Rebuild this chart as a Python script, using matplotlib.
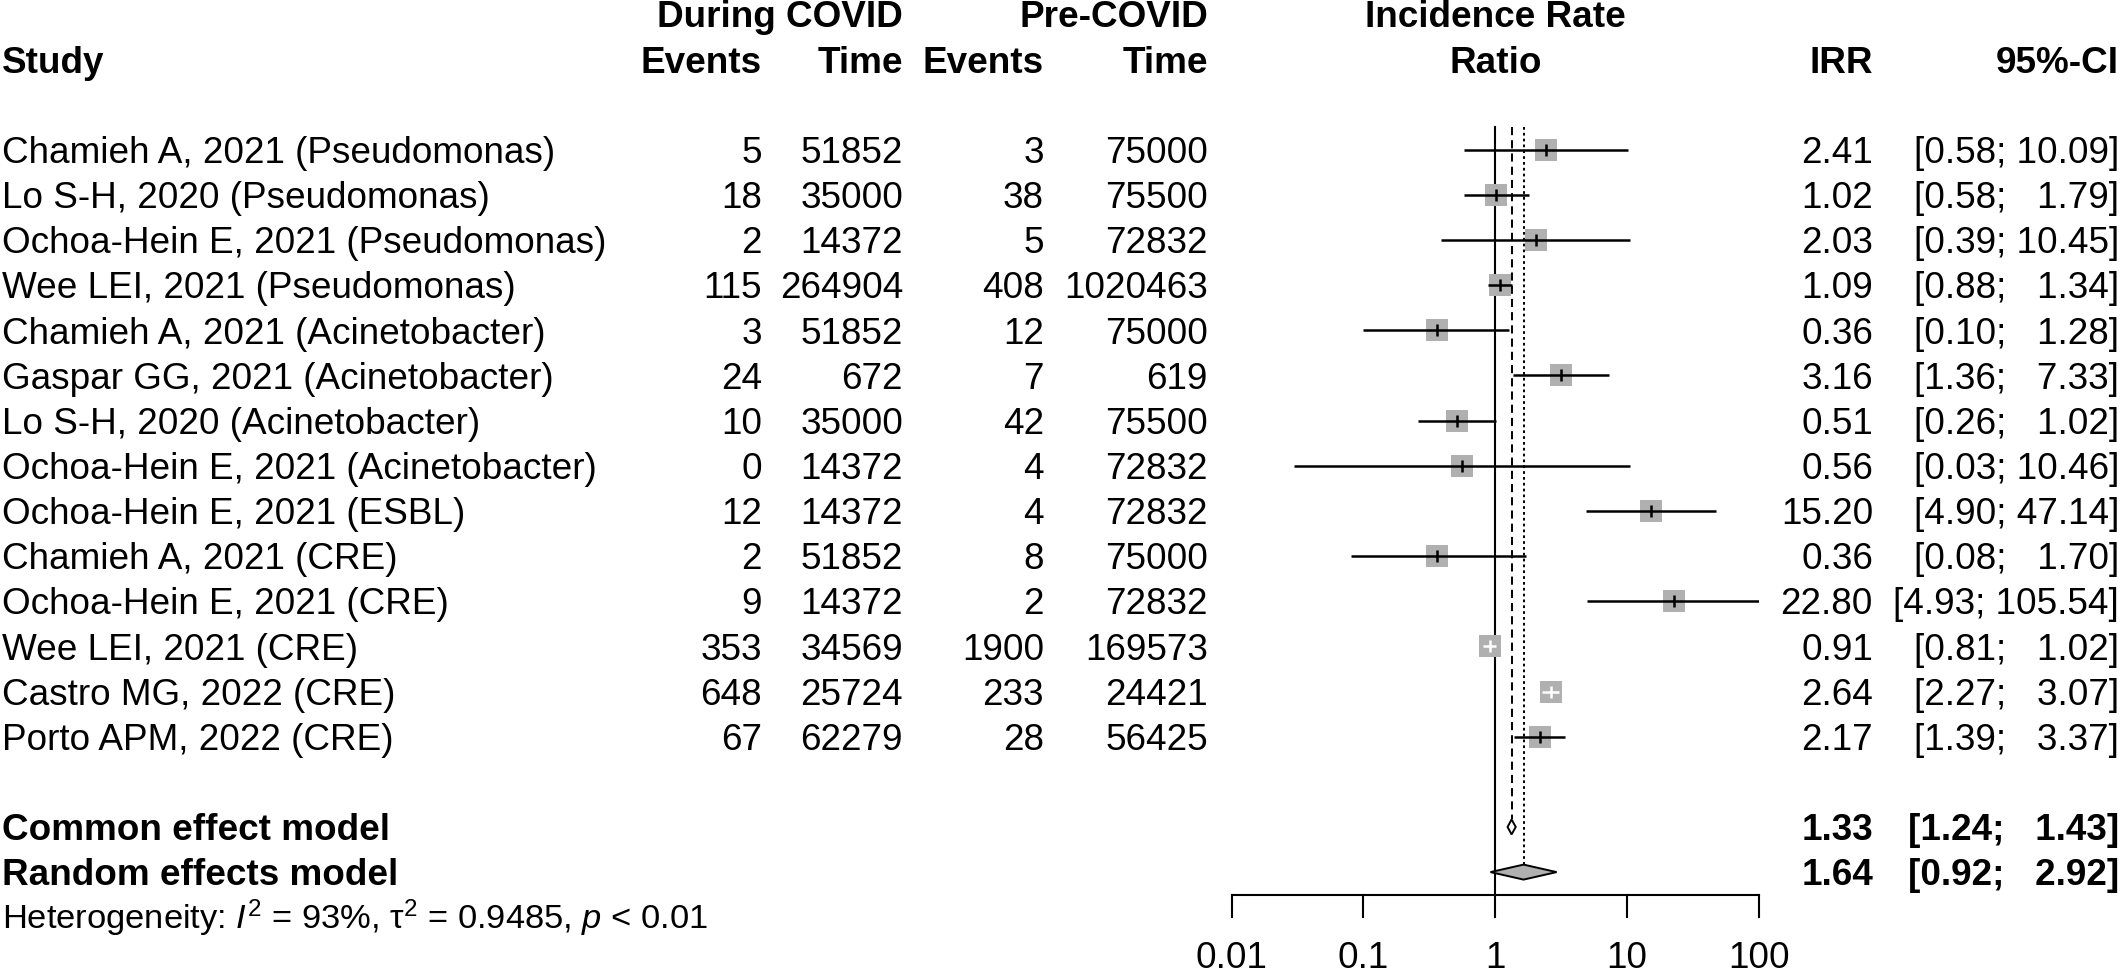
import matplotlib
matplotlib.use("Agg")
import matplotlib.pyplot as plt
from matplotlib.patches import Polygon
import numpy as np

# ---------------- data ----------------
studies = [
    "Chamieh A, 2021 (Pseudomonas)",
    "Lo S-H, 2020 (Pseudomonas)",
    "Ochoa-Hein E, 2021 (Pseudomonas)",
    "Wee LEI, 2021 (Pseudomonas)",
    "Chamieh A, 2021 (Acinetobacter)",
    "Gaspar GG, 2021 (Acinetobacter)",
    "Lo S-H, 2020 (Acinetobacter)",
    "Ochoa-Hein E, 2021 (Acinetobacter)",
    "Ochoa-Hein E, 2021 (ESBL)",
    "Chamieh A, 2021 (CRE)",
    "Ochoa-Hein E, 2021 (CRE)",
    "Wee LEI, 2021 (CRE)",
    "Castro MG, 2022 (CRE)",
    "Porto APM, 2022 (CRE)",
]
events_during = [5, 18, 2, 115, 3, 24, 10, 0, 12, 2, 9, 353, 648, 67]
time_during = [51852, 35000, 14372, 264904, 51852, 672, 35000, 14372, 14372, 51852, 14372, 34569, 25724, 62279]
events_pre = [3, 38, 5, 408, 12, 7, 42, 4, 4, 8, 2, 1900, 233, 28]
time_pre = [75000, 75500, 72832, 1020463, 75000, 619, 75500, 72832, 72832, 75000, 72832, 169573, 24421, 56425]
irr = [2.41, 1.02, 2.03, 1.09, 0.36, 3.16, 0.51, 0.56, 15.20, 0.36, 22.80, 0.91, 2.64, 2.17]
ci_low = [0.58, 0.58, 0.39, 0.88, 0.10, 1.36, 0.26, 0.03, 4.90, 0.08, 4.93, 0.81, 2.27, 1.39]
ci_high = [10.09, 1.79, 10.45, 1.34, 1.28, 7.33, 1.02, 10.46, 47.14, 1.70, 105.54, 1.02, 3.07, 3.37]

model_labels = ["Common effect model", "Random effects model"]
model_irr = [1.33, 1.64]
model_low = [1.24, 0.92]
model_high = [1.43, 2.92]

xticks = [0.01, 0.1, 1, 10, 100]
xtick_labels = ["0.01", "0.1", "1", "10", "100"]

# ---------------- layout ----------------
W, H, DPI = 2122, 977, 100
FONT = "Liberation Sans"
FS = 26.6
FS_HET = 24.8
ROW0, ROWH = 149.7, 45.15
CAP = 13.2  # half cap-height in px

X_STUDY = 2
X_DEV, X_DTIME, X_PEV, X_PTIME = 762, 903, 1044, 1208
X_IRR, X_CI = 1873, 2119
X_LO, X_HI = 1231.5, 1759.0      # pixel positions of 0.01 and 100
AXIS_Y, TICK_Y, TICKLAB_Y = 895, 917, 955
GRAY = "#B0B0B0"

def rowy(i):
    return ROW0 + ROWH * i

plt.rcParams["font.family"] = [FONT, "DejaVu Sans"]
plt.rcParams["mathtext.fontset"] = "custom"
plt.rcParams["mathtext.rm"] = FONT
plt.rcParams["mathtext.it"] = FONT + ":italic"
plt.rcParams["mathtext.bf"] = FONT + ":bold"

fig = plt.figure(figsize=(W / DPI, H / DPI), dpi=DPI)
fig.patch.set_facecolor("white")

tx = fig.add_axes([0, 0, 1, 1])
tx.set_xlim(0, W)
tx.set_ylim(H, 0)
tx.axis("off")

fx = fig.add_axes([X_LO / W, 0, (X_HI - X_LO) / W, 1])
fx.set_xscale("log")
fx.set_xlim(0.01, 100)
fx.set_ylim(H, 0)
fx.axis("off")
fx.patch.set_alpha(0)

def put(x, i, s, ha="left", bold=False, fs=FS, y=None):
    yy = rowy(i) if y is None else y
    tx.text(x, yy + CAP * fs / FS, s, ha=ha, va="baseline", fontsize=fs,
            fontweight="bold" if bold else "normal", color="black")

x_one = X_LO + (X_HI - X_LO) * (np.log10(1) - np.log10(0.01)) / 4

# headers
put(X_DTIME, -3, "During COVID", ha="right", bold=True)
put(X_PTIME, -3, "Pre-COVID", ha="right", bold=True)
put(x_one, -3, "Incidence Rate", ha="center", bold=True)
put(X_STUDY, -2, "Study", bold=True)
put(X_DEV, -2, "Events", ha="right", bold=True)
put(X_DTIME, -2, "Time", ha="right", bold=True)
put(X_PEV, -2, "Events", ha="right", bold=True)
put(X_PTIME, -2, "Time", ha="right", bold=True)
put(x_one, -2, "Ratio", ha="center", bold=True)
put(X_IRR, -2, "IRR", ha="right", bold=True)
put(X_CI, -2, "95%-CI", ha="right", bold=True)

FIGSP = "\u2007"

def ci_str(lo, hi):
    hs = f"{hi:.2f}"
    hs = FIGSP * max(0, 5 - len(hs)) + hs
    return f"[{lo:.2f}; {hs}]"

# study rows
for i, name in enumerate(studies):
    put(X_STUDY, i, name)
    put(X_DEV, i, str(events_during[i]), ha="right")
    put(X_DTIME, i, str(time_during[i]), ha="right")
    put(X_PEV, i, str(events_pre[i]), ha="right")
    put(X_PTIME, i, str(time_pre[i]), ha="right")
    put(X_IRR, i, f"{irr[i]:.2f}", ha="right")
    put(X_CI, i, ci_str(ci_low[i], ci_high[i]), ha="right")

# model rows
n = len(studies)
for k, lab in enumerate(model_labels):
    i = n + 1 + k
    put(X_STUDY, i, lab, bold=True)
    put(X_IRR, i, f"{model_irr[k]:.2f}", ha="right", bold=True)
    put(X_CI, i, ci_str(model_low[k], model_high[k]), ha="right", bold=True)

# heterogeneity
put(X_STUDY, n + 3,
    r"Heterogeneity: $\mathit{I}^{2}$ = 93%, τ$^{2}$ = 0.9485, $\mathit{p}$ < 0.01",
    fs=FS_HET)

# ---------------- forest graphics ----------------
top = rowy(0) - ROWH / 2
dia_h = 7.5
px_per_dec = (X_HI - X_LO) / 4
sq = 22  # square side in px
fx.plot([1, 1], [top, AXIS_Y], color="black", lw=1.5, clip_on=False)
fx.plot([model_irr[0]] * 2, [top, rowy(n + 1) - dia_h], color="black", lw=1.4,
        dashes=(4.2, 2.6))
fx.plot([model_irr[1]] * 2, [top, rowy(n + 2) - dia_h], color="black", lw=1.4,
        dashes=(1.4, 1.6))

for i in range(n):
    y = rowy(i)
    half = (sq / 2) / px_per_dec
    inside = (np.log10(ci_low[i]) >= np.log10(irr[i]) - half) and \
             (np.log10(ci_high[i]) <= np.log10(irr[i]) + half)
    col = "white" if inside else "black"
    fx.plot([irr[i]], [y], marker="s", markersize=sq * 72 / DPI, color=GRAY,
            markeredgewidth=0, zorder=3)
    fx.plot([ci_low[i], ci_high[i]], [y, y], color=col, lw=1.8, zorder=4,
            solid_capstyle="butt")
    fx.plot([irr[i]], [y], marker="|", markersize=9, markeredgewidth=1.8,
            color=col, zorder=5)

fills = ["white", GRAY]
for k in range(2):
    y = rowy(n + 1 + k)
    poly = Polygon([(model_low[k], y), (model_irr[k], y - dia_h),
                    (model_high[k], y), (model_irr[k], y + dia_h)],
                   closed=True, facecolor=fills[k], edgecolor="black", lw=1.4, zorder=4)
    fx.add_patch(poly)

# x axis
fx.plot([xticks[0], xticks[-1]], [AXIS_Y, AXIS_Y], color="black", lw=1.5,
        clip_on=False, solid_capstyle="projecting")
for t, lab in zip(xticks, xtick_labels):
    fx.plot([t, t], [AXIS_Y, TICK_Y], color="black", lw=1.5, clip_on=False)
    fx.text(t, TICKLAB_Y + CAP, lab, ha="center", va="baseline", fontsize=FS,
            color="black")

fig.savefig("out.png", dpi=DPI, facecolor="white")
